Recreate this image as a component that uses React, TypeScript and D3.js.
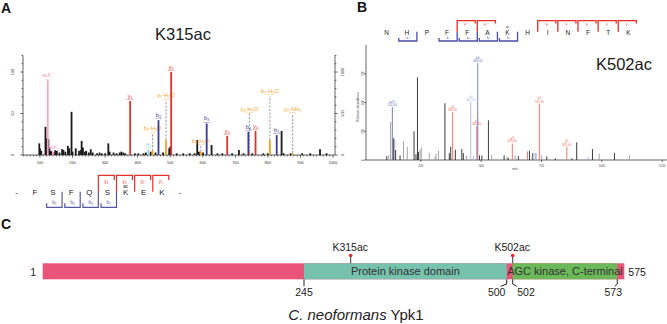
import React from "react";
import * as d3 from "d3";

const FONT = "'Liberation Sans', Arial, Helvetica, sans-serif";

// ---------- Panel A: K315ac spectrum ----------
const aXTicks = [100, 200, 300, 400, 500, 600, 700, 800, 900, 1000];
const aYTicks = [0, 50, 100];
const aYTicksRight = [0, 500, 1000];

// unannotated peaks [m/z, relative intensity]
const aNoise: [number, number][] = [
  [98, 14], [100, 8], [104, 5], [117, 34], [120, 20], [126, 19], [129, 9], [133, 5],
  [136, 4], [142, 3], [147, 6], [152, 5], [160, 3], [168, 7], [172, 6], [178, 4],
  [186, 11], [190, 8], [197, 52], [200, 4], [210, 8], [220, 5], [226, 6], [228, 17],
  [232, 9], [238, 4], [242, 5], [250, 3], [256, 7], [262, 3], [275, 2], [283, 3],
  [290, 2], [300, 2], [310, 14], [314, 4], [326, 3], [335, 2], [345, 3], [350, 4],
  [356, 3], [362, 2], [392, 2], [402, 2], [418, 2], [425, 3], [440, 4],
  [455, 3], [478, 3], [497, 8], [500, 10], [520, 2], [540, 2], [560, 2], [575, 2],
  [583, 18], [588, 4], [601, 3], [627, 12], [645, 2], [660, 2], [690, 2], [711, 6],
  [725, 2], [752, 2], [786, 2], [800, 2], [842, 29], [848, 2], [870, 2], [905, 2],
  [930, 2], [960, 7], [980, 2],
];

// annotated fragment ions
const aIons = [
  { mz: 124, int: 90, ion: "acK⁺", kind: "pink" },
  { mz: 140, int: 4, ion: "acK", kind: "pink" },
  { mz: 377, int: 65, ion: "y₁", kind: "red" },
  { mz: 433, int: 7, ion: "a₂", kind: "lightblue" },
  { mz: 464, int: 42, ion: "b₂", kind: "blue" },
  { mz: 503, int: 100, ion: "y₂", kind: "red" },
  { mz: 612, int: 38, ion: "b₃", kind: "blue" },
  { mz: 675, int: 23, ion: "y₃", kind: "red" },
  { mz: 740, int: 28, ion: "b₄", kind: "blue" },
  { mz: 762, int: 29, ion: "y₄", kind: "red" },
  { mz: 827, int: 24, ion: "b₅", kind: "blue" },
];

// neutral-loss ions: small bar plus dashed guide up to the label
const aLosses = [
  { mz: 446, int: 5, guide: 26, ion: "b₂-H₂O" },
  { mz: 487, int: 18, guide: 66, ion: "y₂-H₂O" },
  { mz: 594, int: 4, guide: 11, ion: "b₃-H₂O" },
  { mz: 743, int: 4, guide: 50, ion: "y₃-H₂O" },
  { mz: 806, int: 18, guide: 71, ion: "b₅-H₂O" },
  { mz: 876, int: 2, guide: 50, ion: "y₄-NH₃" },
];

const aResidues = ["-", "F", "S", "F", "Q", "S", "K", "E", "K", "-"];
const aYFrags = [
  { after: 4, label: "y₄" }, { after: 5, label: "y₃" },
  { after: 6, label: "y₂" }, { after: 7, label: "y₁" },
];
const aBFrags = [
  { after: 2, label: "b₂" }, { after: 3, label: "b₃" },
  { after: 4, label: "b₄" }, { after: 5, label: "b₅" },
];
const aAcetylSite = 6;

// ---------- Panel B: K502ac spectrum ----------
const bXTicks = [250, 500, 750, 1000, 1250];
const bYTicks = [0, 250, 500, 750];

const bNoise: { mz: number; int: number; gray?: boolean }[] = [
  { mz: 109, int: 34 }, { mz: 117, int: 43, gray: true }, { mz: 125, int: 330, gray: true },
  { mz: 136, int: 190 }, { mz: 142, int: 180, gray: true }, { mz: 146, int: 86 },
  { mz: 164, int: 40 }, { mz: 178, int: 166, gray: true }, { mz: 194, int: 113, gray: true },
  { mz: 222, int: 250 }, { mz: 230, int: 50 }, { mz: 236, int: 718 }, { mz: 240, int: 70 },
  { mz: 247, int: 90, gray: true }, { mz: 252, int: 110, gray: true }, { mz: 285, int: 60, gray: true },
  { mz: 309, int: 30, gray: true }, { mz: 313, int: 55, gray: true }, { mz: 323, int: 80, gray: true },
  { mz: 350, int: 494 }, { mz: 368, int: 60 }, { mz: 374, int: 115 }, { mz: 393, int: 90 },
  { mz: 420, int: 95 }, { mz: 426, int: 60 }, { mz: 440, int: 40, gray: true },
  { mz: 493, int: 40 }, { mz: 503, int: 40 }, { mz: 530, int: 345 },
  { mz: 544, int: 45, gray: true }, { mz: 595, int: 40 }, { mz: 607, int: 25, gray: true },
  { mz: 612, int: 20 }, { mz: 641, int: 40, gray: true }, { mz: 654, int: 35 },
  { mz: 700, int: 81 }, { mz: 714, int: 60 }, { mz: 724, int: 60, gray: true },
  { mz: 751, int: 40, gray: true }, { mz: 772, int: 30 }, { mz: 807, int: 15 },
  { mz: 876, int: 15 }, { mz: 896, int: 153 }, { mz: 961, int: 95 },
  { mz: 989, int: 55, gray: true }, { mz: 1052, int: 63 }, { mz: 1114, int: 43, gray: true },
];

const bIons = [
  { mz: 132, int: 460, ion: "acK⁺", kind: "blue" },
  { mz: 382, int: 416, ion: "y1", kind: "red" },
  { mz: 457, int: 506, ion: "a4", kind: "lightblue" },
  { mz: 468, int: 35, ion: "", kind: "lightblue" },
  { mz: 482, int: 296, ion: "y2", kind: "red" },
  { mz: 486, int: 841, ion: "b4", kind: "blue" },
  { mz: 629, int: 144, ion: "y3", kind: "red" },
  { mz: 692, int: 75, ion: "", kind: "red" },
  { mz: 728, int: 60, ion: "", kind: "lightblue" },
  { mz: 741, int: 489, ion: "y4", kind: "red" },
  { mz: 855, int: 115, ion: "y5", kind: "red" },
  { mz: 944, int: 25, ion: "", kind: "lightblue" },
];

const bResidues = "NHPFFAKHINFTK".split("");
const bYFrags = [
  { after: 3, label: "y₉²⁺" }, { after: 4, label: "y₈²⁺" }, { after: 7, label: "y₅" },
  { after: 8, label: "y₄" }, { after: 9, label: "y₃" }, { after: 10, label: "y₂" },
  { after: 11, label: "y₁" },
];
const bBFrags = [
  { after: 1, label: "b₂" }, { after: 3, label: "b₄" }, { after: 4, label: "b₅" },
  { after: 5, label: "b₆" }, { after: 6, label: "b₇" },
];
const bAcetylSite = 6;

// ---------- Panel C: Ypk1 domain map ----------
const cLength = 575;
const cDomains = [
  { start: 245, end: 500, name: "Protein kinase domain", color: "#76c2ad" },
  { start: 502, end: 573, name: "AGC kinase, C-terminal", color: "#6cb95a" },
];
const cBoundaries = [245, 500, 502, 573];
const cSites = [
  { pos: 315, label: "K315ac" },
  { pos: 502, label: "K502ac" },
];

const A_COL: Record<string, string> = {
  red: "#e8302a",
  blue: "#3b3a98",
  orange: "#f7a21c",
  pink: "#f6a6c4",
  lightblue: "#9bd2f0",
  black: "#1a1a1a",
};
const B_COL: Record<string, string> = {
  red: "#f26a5a",
  blue: "#6d72bd",
  lightblue: "#a7b3ea",
  black: "#262626",
  gray: "#9b9b9b",
};

function PanelA() {
  const x = d3.scaleLinear().domain([48, 1006]).range([23, 335]);
  const y = d3.scaleLinear().domain([0, 120]).range([155, 55.4]);
  const yRight = d3.scaleLinear().domain([0, 1200]).range([155, 55.4]);
  const minorX = d3.range(50, 1001, 10);
  const minorY = d3.range(0, 121, 10);
  const minorYR = d3.range(0, 1201, 100);
  const bw = 1.8;

  const seq = d3.scalePoint<number>().domain(d3.range(aResidues.length)).range([16.7, 180]);
  const step = seq.step();
  const cut = (i: number) => ((seq(i) as number) + (seq(i + 1) as number)) / 2;

  return (
    <g>
      <text x={1} y={12.5} fontSize={14} fontWeight="bold" fill="#111">A</text>
      <text x={183} y={40} fontSize={16.5} textAnchor="middle" fill="#1a1a1a">K315ac</text>

      {/* axes */}
      <g stroke="#222" strokeWidth={0.7}>
        <line x1={x(48)} x2={x(1006)} y1={y(0)} y2={y(0)} />
        <line x1={x(48)} x2={x(48)} y1={y(0)} y2={y(120)} />
        <line x1={x(1006)} x2={x(1006)} y1={y(0)} y2={y(120)} />
        {minorX.map((t) => (
          <line key={t} x1={x(t)} x2={x(t)} y1={y(0)} y2={y(0) + (t % 100 === 0 ? 2.6 : 1.4)} />
        ))}
        {minorY.map((t) => (
          <line key={t} x1={x(48)} x2={x(48) - (t % 50 === 0 ? 2.6 : 1.4)} y1={y(t)} y2={y(t)} />
        ))}
        {minorYR.map((t) => (
          <line key={t} x1={x(1006)} x2={x(1006) + (t % 500 === 0 ? 2.6 : 1.4)} y1={yRight(t)} y2={yRight(t)} />
        ))}
      </g>
      <g fontSize={3.8} fill="#333" textAnchor="middle">
        {aXTicks.map((t) => (
          <text key={t} x={x(t)} y={163.5}>{t}</text>
        ))}
        {aYTicks.map((t) => (
          <text key={t} x={13.5} y={y(t)} transform={`rotate(-90, 13.5, ${y(t)})`}>{t}</text>
        ))}
        {aYTicksRight.map((t) => (
          <text key={t} x={343.5} y={yRight(t)} transform={`rotate(-90, 343.5, ${yRight(t)})`}>{t}</text>
        ))}
      </g>

      {/* unannotated peaks */}
      {aNoise.map(([mz, v], i) => (
        <rect key={i} x={x(mz) - bw / 2} y={y(v)} width={bw} height={y(0) - y(v)} fill={A_COL.black} />
      ))}

      {/* neutral-loss ions */}
      {aLosses.map((d) => (
        <g key={d.ion}>
          <line x1={x(d.mz)} x2={x(d.mz)} y1={y(d.int)} y2={y(d.guide)} stroke="#9a9a9a" strokeWidth={1} strokeDasharray="2.2,1.4" />
          <rect x={x(d.mz) - bw / 2} y={y(d.int)} width={bw} height={y(0) - y(d.int)} fill={A_COL.orange} />
          <text x={x(d.mz)} y={y(d.guide) - 3} fontSize={5.6} textAnchor="middle" fill={A_COL.orange}>{d.ion}</text>
          <text x={x(d.mz)} y={y(d.guide) - 0.7} fontSize={2.2} textAnchor="middle" fill={A_COL.orange}>{d.mz.toFixed(2)}</text>
        </g>
      ))}

      {/* annotated ions */}
      {aIons.map((d) => (
        <g key={d.ion + d.mz}>
          <rect x={x(d.mz) - bw / 2} y={y(d.int)} width={bw} height={y(0) - y(d.int)} fill={A_COL[d.kind]} />
          <text x={x(d.mz)} y={y(d.int) - 3} fontSize={5.6} textAnchor="middle" fill={A_COL[d.kind]}>{d.ion}</text>
          <text x={x(d.mz)} y={y(d.int) - 0.7} fontSize={2.2} textAnchor="middle" fill={A_COL[d.kind]}>{d.mz.toFixed(2)}</text>
        </g>
      ))}

      {/* peptide sequence with fragment brackets */}
      <g fontSize={8} textAnchor="middle" fill="#222">
        {aResidues.map((r, i) => (
          <text key={i} x={seq(i)} y={195}>{r}</text>
        ))}
        <text x={seq(aAcetylSite)} y={187.6} fontSize={4.6}>ac</text>
      </g>
      <g fill="none" strokeWidth={1.2}>
        {aYFrags.map((f) => {
          const c = cut(f.after);
          const w = step * 0.88;
          return (
            <g key={f.label}>
              <path d={`M${c},191.7V175.3H${c + w}V180`} stroke={A_COL.red} />
              <text x={c + w / 2} y={183} fontSize={4.6} textAnchor="middle" fill={A_COL.red} stroke="none">{f.label}</text>
            </g>
          );
        })}
        {aBFrags.map((f) => {
          const c = cut(f.after);
          const w = step * 0.85;
          return (
            <g key={f.label}>
              <path d={`M${c},191.7V207.3H${c - w}V203.3`} stroke="#5557a6" />
              <text x={c - w / 2} y={204.4} fontSize={4.6} textAnchor="middle" fill="#5557a6" stroke="none">{f.label}</text>
            </g>
          );
        })}
      </g>
    </g>
  );
}

function PanelB() {
  const x = d3.scaleLinear().domain([23, 1270]).range([366, 667]);
  const y = d3.scaleLinear().domain([0, 1000]).range([160, 45]);
  const bw = 0.9;

  const seq = d3.scalePoint<number>().domain(d3.range(bResidues.length)).range([386.7, 628.3]);
  const step = seq.step();
  const cut = (i: number) => ((seq(i) as number) + (seq(i + 1) as number)) / 2;

  return (
    <g>
      <text x={357} y={12} fontSize={14} fontWeight="bold" fill="#111">B</text>
      <text x={624} y={70} fontSize={16.5} textAnchor="middle" fill="#1a1a1a">K502ac</text>

      {/* sequence */}
      <g fontSize={6.5} textAnchor="middle" fill="#222">
        {bResidues.map((r, i) => (
          <text key={i} x={seq(i)} y={35.3}>{r}</text>
        ))}
        <text x={seq(bAcetylSite)} y={28.2} fontSize={3.4}>ac</text>
      </g>
      <g fill="none" strokeWidth={1.3}>
        {bYFrags.map((f) => {
          const c = cut(f.after);
          const w = step * 0.9;
          return (
            <g key={f.label}>
              <path d={`M${c},31.7V20.7H${c + w}V23.6`} stroke="#ee2b25" />
              <text x={c + w / 2} y={25.2} fontSize={2.8} textAnchor="middle" fill="#ee2b25" stroke="none">{f.label}</text>
            </g>
          );
        })}
        {bBFrags.map((f) => {
          const c = cut(f.after);
          const w = step * 0.9;
          return (
            <g key={f.label}>
              <path d={`M${c},31.7V41H${c - w}V38`} stroke="#4a4ea3" />
              <text x={c - w / 2} y={39.4} fontSize={2.8} textAnchor="middle" fill="#4a4ea3" stroke="none">{f.label}</text>
            </g>
          );
        })}
      </g>

      {/* axes */}
      <g stroke="#222" strokeWidth={0.7}>
        <line x1={x(23)} x2={x(1270)} y1={y(0)} y2={y(0)} />
        <line x1={x(23)} x2={x(23)} y1={y(0)} y2={y(1000)} />
        {bXTicks.map((t) => (
          <line key={t} x1={x(t)} x2={x(t)} y1={y(0)} y2={y(0) + 1.8} />
        ))}
        {bYTicks.map((t) => (
          <line key={t} x1={x(23)} x2={x(23) - 1.8} y1={y(t)} y2={y(t)} />
        ))}
      </g>
      <g fontSize={3} fill="#444" textAnchor="middle">
        {bXTicks.map((t) => (
          <text key={t} x={x(t)} y={166.5}>{t}</text>
        ))}
        {bYTicks.map((t) => (
          <text key={t} x={363.5} y={y(t)} transform={`rotate(-90, 363.5, ${y(t)})`}>{t}</text>
        ))}
        <text x={358.5} y={107} fontSize={3.4} transform="rotate(-90, 358.5, 107)">Relative abundance</text>
        <text x={515} y={170} fontSize={3.4} fontStyle="italic">m/z</text>
      </g>

      {/* peaks */}
      {bNoise.map((d, i) => (
        <rect key={i} x={x(d.mz) - bw / 2} y={y(d.int)} width={bw} height={y(0) - y(d.int)} fill={d.gray ? B_COL.gray : B_COL.black} />
      ))}
      {bIons.map((d, i) => (
        <g key={i}>
          <rect x={x(d.mz) - bw / 2} y={y(d.int)} width={bw} height={y(0) - y(d.int)} fill={B_COL[d.kind]} />
          {d.ion && (
            <>
              <text x={x(d.mz)} y={y(d.int) - 4.3} fontSize={3.2} textAnchor="middle" fill={B_COL[d.kind]}>{d.ion}</text>
              <text x={x(d.mz)} y={y(d.int) - 1} fontSize={3} textAnchor="middle" fill={B_COL[d.kind]}>{d.mz.toFixed(2)}</text>
            </>
          )}
        </g>
      ))}
    </g>
  );
}

function PanelC() {
  // the drawing is not to scale: a piecewise scale with a knot at every labelled residue
  const knots = [1, 245, 315, 500, 502, 573, cLength];
  const x = d3.scaleLinear().domain(knots).range([42.7, 304, 350.7, 506.7, 512.7, 617.3, 624.3]);
  const top = 263.3;
  const h = 16;
  const bottom = top + h;
  // hook direction / label shift for the boundary ticks
  const hook: Record<number, [number, number]> = { 245: [0, 0], 500: [-6, -10], 502: [4, 13.3], 573: [-2.5, -4] };

  return (
    <g>
      <text x={1} y={228.5} fontSize={14} fontWeight="bold" fill="#111">C</text>

      <rect x={x(1)} y={top} width={x(cLength) - x(1)} height={h} fill="#eb5479" />
      {cDomains.map((d) => (
        <rect key={d.name} x={x(d.start)} y={top} width={x(d.end) - x(d.start)} height={h} fill={d.color} />
      ))}
      {cDomains.map((d) => (
        <text key={d.name} x={(x(d.start) + x(d.end)) / 2} y={275.3} fontSize={11} textAnchor="middle" fill="#333">{d.name}</text>
      ))}

      <text x={36} y={275.7} fontSize={10.5} textAnchor="end" fill="#222">1</text>
      <text x={x(cLength) + 4} y={275.7} fontSize={10.5} fill="#222">{cLength}</text>

      {cBoundaries.map((b) => {
        const [hx, lx] = hook[b];
        return (
          <g key={b}>
            <path d={`M${x(b)},${bottom}V${bottom + 4.8}L${x(b) + hx},${bottom + 7}`} fill="none" stroke="#222" strokeWidth={1} />
            <text x={x(b) + lx} y={295.5} fontSize={10.5} textAnchor="middle" fill="#222">{b}</text>
          </g>
        );
      })}

      {cSites.map((s) => (
        <g key={s.label}>
          <line x1={x(s.pos)} x2={x(s.pos)} y1={255.5} y2={top} stroke="#222" strokeWidth={0.9} />
          <circle cx={x(s.pos)} cy={255.5} r={1.8} fill="#e8262a" />
          <text x={x(s.pos) - 0.5} y={251} fontSize={10.5} textAnchor="middle" fill="#222">{s.label}</text>
        </g>
      ))}

      <text x={356} y={320} fontSize={15} textAnchor="middle" fill="#222">
        <tspan fontStyle="italic">C. neoformans</tspan> Ypk1
      </text>
    </g>
  );
}

export default function App() {
  return (
    <svg
      width={667}
      height={324}
      viewBox="0 0 667 324"
      fontFamily={FONT}
      style={{ position: "absolute", left: 0, top: 0, background: "#fff" }}
    >
      <PanelA />
      <PanelB />
      <PanelC />
    </svg>
  );
}
